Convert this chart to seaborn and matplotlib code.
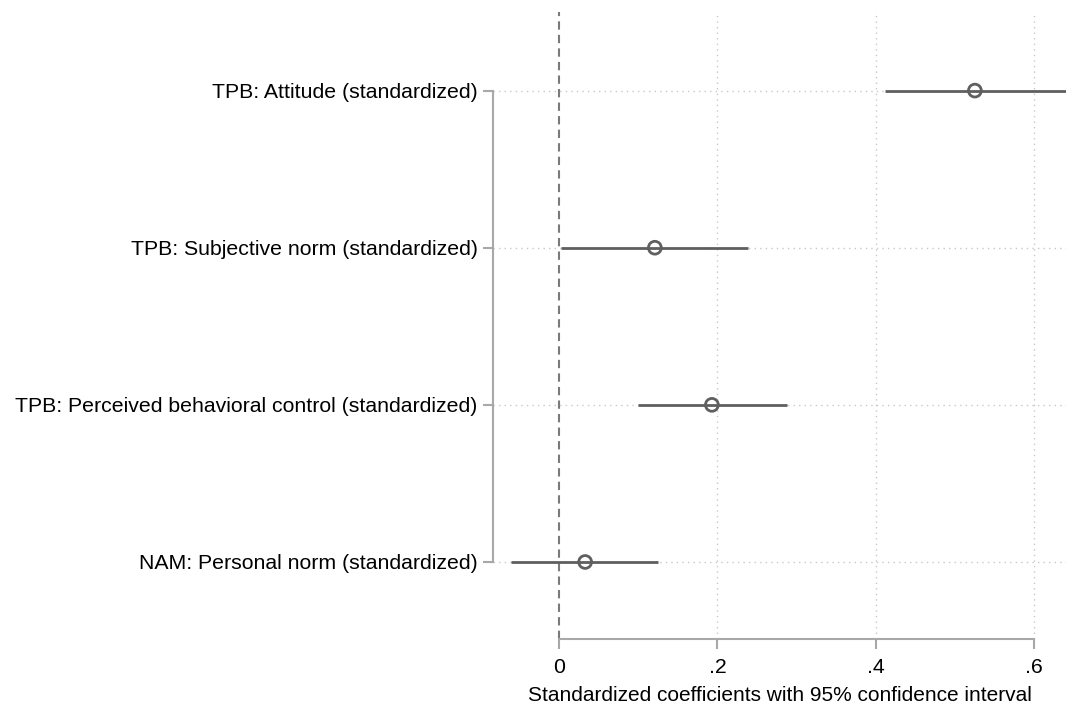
import numpy as np
import pandas as pd
import matplotlib
matplotlib.use("Agg")
import matplotlib.pyplot as plt
import seaborn as sns

# Coefficient estimates and 95% confidence bounds
labels = [
    "TPB: Attitude (standardized)",
    "TPB: Subjective norm (standardized)",
    "TPB: Perceived behavioral control (standardized)",
    "NAM: Personal norm (standardized)",
]
coef = [0.525, 0.121, 0.193, 0.033]
ci_low = [0.411, 0.003, 0.100, -0.060]
ci_high = [0.640, 0.238, 0.288, 0.125]
xticks = [0, 0.2, 0.4, 0.6]
xtick_labels = ["0", ".2", ".4", ".6"]

df = pd.DataFrame({"label": labels, "coef": coef, "lo": ci_low, "hi": ci_high})
df["pos"] = np.arange(len(df))

sns.set_style("white")
plt.rcParams["font.family"] = ["Liberation Sans", "DejaVu Sans"]

fig = plt.figure(figsize=(10.72, 7.08), dpi=100)
ax = fig.add_axes([0.4599, 0.0975, 0.5345, 0.8855])

line_col = "#5f5f5f"
axis_col = "#a8a8a8"

# Dotted reference grid
for xv in xticks[1:]:
    ax.axvline(xv, color="#c8c8c8", lw=1.0, ls=(0, (1, 3)), zorder=0)
for yv in df["pos"]:
    ax.axhline(yv, color="#c8c8c8", lw=1.0, ls=(0, (1, 3)), zorder=0)

# Zero line
ax.axvline(0, color="#7a7a7a", lw=1.5, ls=(0, (4, 2.5)), zorder=1)

# Confidence intervals
ax.hlines(df["pos"], df["lo"], df["hi"], color=line_col, lw=2.0, zorder=2)

# Point estimates
sns.scatterplot(data=df, x="coef", y="pos", ax=ax, s=85, marker="o",
                facecolor="none", edgecolor=line_col, linewidth=2.0, zorder=3)

ax.set_xlim(-0.0833, 0.64)
ax.set_ylim(3.49, -0.5)
ax.set_yticks(df["pos"])
ax.set_yticklabels(df["label"])
ax.set_xticks(xticks)
ax.set_xticklabels(xtick_labels)
ax.set_ylabel("")
ax.set_xlabel("Standardized coefficients with 95% confidence interval",
              fontsize=15, labelpad=6, color="black")

for side in ["top", "right"]:
    ax.spines[side].set_visible(False)
ax.spines["left"].set_bounds(0, 3)
ax.spines["bottom"].set_bounds(0, 0.6)
for side in ["left", "bottom"]:
    ax.spines[side].set_color(axis_col)
    ax.spines[side].set_linewidth(1.5)

ax.tick_params(axis="y", which="major", length=7, width=1.5,
               color=axis_col, labelsize=15.3, labelcolor="black", pad=4,
               direction="out", left=True)
ax.tick_params(axis="x", which="major", length=7, width=1.5,
               color=axis_col, labelsize=15.3, labelcolor="black", pad=7,
               direction="out", bottom=True)

fig.savefig("out.png", dpi=100)
